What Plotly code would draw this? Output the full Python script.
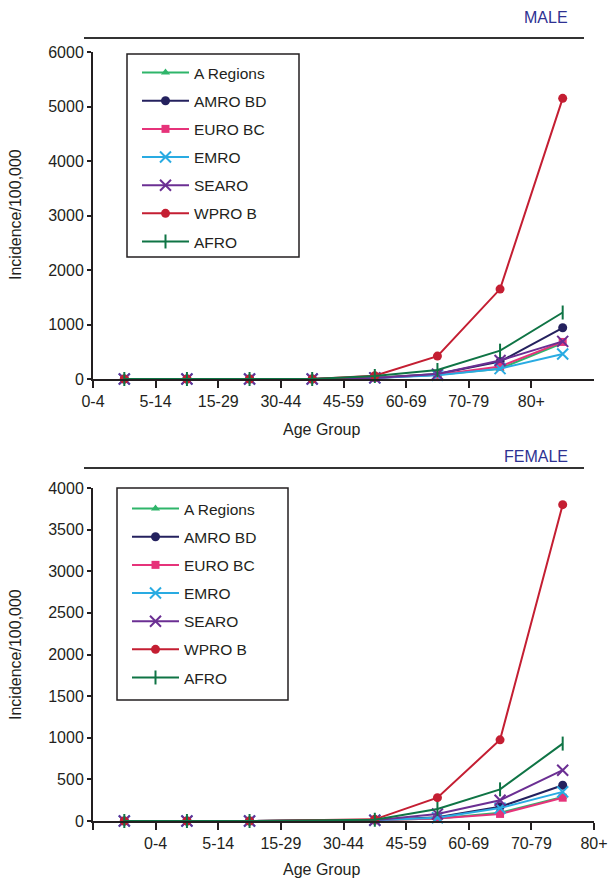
import plotly.graph_objects as go

W, H = 611, 883

age_labels = ["0-4", "5-14", "15-29", "30-44", "45-59", "60-69", "70-79", "80+"]
series_names = ["A Regions", "AMRO BD", "EURO BC", "EMRO", "SEARO", "WPRO B", "AFRO"]

male_a_regions = [0, 0, 0, 0, 20, 80, 190, 660]
male_amro_bd = [0, 0, 0, 0, 25, 90, 320, 940]
male_euro_bc = [0, 0, 0, 0, 20, 80, 230, 680]
male_emro = [0, 0, 0, 0, 20, 70, 190, 460]
male_searo = [0, 0, 0, 0, 20, 90, 340, 690]
male_wpro_b = [0, 0, 0, 0, 60, 420, 1650, 5150]
male_afro = [0, 0, 0, 0, 55, 165, 520, 1220]

# female chart has no point at the 4th position (line drawn across the gap)
female_a_regions = [0, 0, 0, None, 10, 30, 100, 290]
female_amro_bd = [0, 0, 0, None, 10, 45, 170, 430]
female_euro_bc = [0, 0, 0, None, 10, 30, 85, 280]
female_emro = [0, 0, 0, None, 10, 40, 155, 350]
female_searo = [0, 0, 0, None, 10, 85, 250, 610]
female_wpro_b = [0, 0, 0, None, 20, 280, 975, 3800]
female_afro = [0, 0, 0, None, 15, 145, 380, 930]

male_tick_labels = age_labels
female_tick_labels = [""] + age_labels

male_series = [male_a_regions, male_amro_bd, male_euro_bc, male_emro,
               male_searo, male_wpro_b, male_afro]
female_series = [female_a_regions, female_amro_bd, female_euro_bc, female_emro,
                 female_searo, female_wpro_b, female_afro]

colors = ["#2fb56a", "#24215e", "#e6337a", "#29abe2", "#6b2f93", "#c41e32", "#0f7445"]
symbols = ["triangle-up", "circle", "square", "x-thin", "x-thin", "circle", "line-ns"]
sizes = [8, 9, 8, 11, 11, 9, 10]

FONT = "Liberation Sans, Arial, sans-serif"
TXT = "#231f20"

fig = go.Figure()
x_idx = list(range(len(age_labels)))

for k, name in enumerate(series_names):
    for vals, xa, ya, leg in [(male_series[k], "x", "y", "legend"),
                              (female_series[k], "x2", "y2", "legend2")]:
        thin = symbols[k] in ("x-thin", "line-ns")
        fig.add_trace(go.Scatter(
            x=x_idx, y=vals, name=name, xaxis=xa, yaxis=ya, legend=leg,
            mode="lines+markers", connectgaps=True, cliponaxis=False,
            line=dict(color=colors[k], width=2),
            marker=dict(symbol=symbols[k], size=sizes[k], color=colors[k],
                        line=dict(color=colors[k], width=2 if thin else 0)),
            legendgroup=leg + name,
        ))

def px(x):
    return x / W

def py(y):
    return 1 - y / H

axis_common = dict(showline=True, linewidth=2, linecolor=TXT, showgrid=False,
                   zeroline=False, ticks="outside", tickcolor=TXT, automargin=False,
                   tickfont=dict(family=FONT, size=16, color=TXT))

fig.update_layout(
    width=W, height=H, margin=dict(l=0, r=0, t=0, b=0, pad=0, autoexpand=False),
    paper_bgcolor="white", plot_bgcolor="white",
    font=dict(family=FONT, color=TXT),
    xaxis=dict(domain=[px(93), px(594)], range=[-0.5, 7.5], anchor="y",
               tickvals=[i - 0.5 for i in range(8)], ticktext=male_tick_labels,
               ticklen=7, tickwidth=1.5, **axis_common),
    yaxis=dict(domain=[py(379), py(52)], range=[0, 6000], anchor="x",
               tickvals=[0, 1000, 2000, 3000, 4000, 5000, 6000],
               ticklen=4, tickwidth=1.5, **axis_common),
    xaxis2=dict(domain=[px(93), px(594)], range=[-0.5, 7.5], anchor="y2",
                tickvals=[i - 0.5 for i in range(9)], ticktext=female_tick_labels,
                ticklen=7, tickwidth=1.5, **axis_common),
    yaxis2=dict(domain=[py(821), py(488)], range=[0, 4000], anchor="x2",
                tickvals=[0, 500, 1000, 1500, 2000, 2500, 3000, 3500, 4000],
                ticklen=4, tickwidth=1.5, **axis_common),
    legend=dict(x=px(137), y=py(56), xanchor="left", yanchor="top",
                bgcolor="rgba(0,0,0,0)", borderwidth=0, itemwidth=47,
                tracegroupgap=5, font=dict(family=FONT, size=15.5, color=TXT)),
    legend2=dict(x=px(127), y=py(492), xanchor="left", yanchor="top",
                 bgcolor="rgba(0,0,0,0)", borderwidth=0, itemwidth=47,
                 tracegroupgap=5, font=dict(family=FONT, size=15.5, color=TXT)),
    showlegend=True,
)

shapes = [
    dict(type="line", xref="paper", yref="paper", x0=px(84), x1=px(584),
         y0=py(38), y1=py(38), line=dict(color="#333333", width=2)),
    dict(type="line", xref="paper", yref="paper", x0=px(84), x1=px(584),
         y0=py(468), y1=py(468), line=dict(color="#333333", width=2)),
    dict(type="rect", xref="paper", yref="paper", x0=px(127), x1=px(299),
         y0=py(54), y1=py(257), line=dict(color=TXT, width=1.5),
         fillcolor="rgba(255,255,255,0)", layer="above"),
    dict(type="rect", xref="paper", yref="paper", x0=px(117), x1=px(288),
         y0=py(488), y1=py(700), line=dict(color=TXT, width=1.5),
         fillcolor="rgba(255,255,255,0)", layer="above"),
]
fig.update_layout(shapes=shapes)

ann = [
    dict(text="MALE", x=px(570), y=py(17), xanchor="right", yanchor="middle",
         font=dict(family=FONT, size=16, color="#2e3192")),
    dict(text="FEMALE", x=px(570), y=py(456), xanchor="right", yanchor="middle",
         font=dict(family=FONT, size=16, color="#2e3192")),
    dict(text="Age Group", x=px(321), y=py(429), xanchor="center", yanchor="middle",
         font=dict(family=FONT, size=16, color=TXT)),
    dict(text="Age Group", x=px(321), y=py(869), xanchor="center", yanchor="middle",
         font=dict(family=FONT, size=16, color=TXT)),
    dict(text="Incidence/100,000", x=px(15), y=py(215), xanchor="center",
         yanchor="middle", textangle=-90, font=dict(family=FONT, size=16, color=TXT)),
    dict(text="Incidence/100,000", x=px(15), y=py(655), xanchor="center",
         yanchor="middle", textangle=-90, font=dict(family=FONT, size=16, color=TXT)),
]
for a in ann:
    a.update(xref="paper", yref="paper", showarrow=False)
fig.update_layout(annotations=ann)

fig.write_html(
    "out.html",
    config={"displayModeBar": False},
    post_script="document.documentElement.style.margin='0';"
                "document.body.style.margin='0';document.body.style.padding='0';"
                "document.body.style.overflow='hidden';",
)
